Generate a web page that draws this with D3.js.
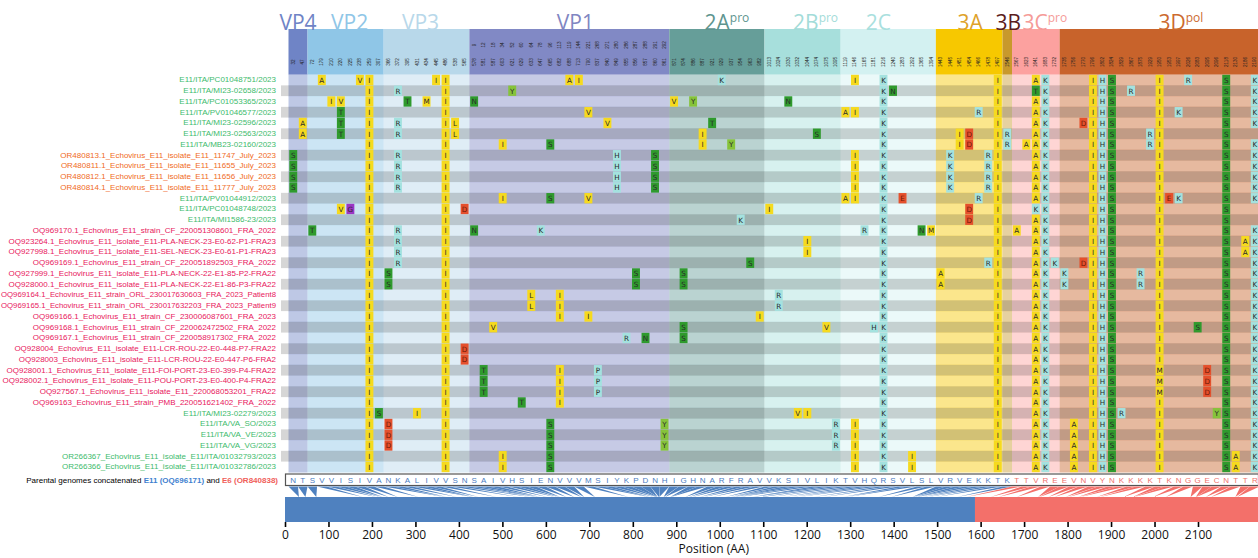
<!DOCTYPE html>
<html><head><meta charset="utf-8">
<script src="https://cdn.jsdelivr.net/npm/d3@7"></script>
<style>body{margin:0;background:#fff;}svg{display:block;}</style>
</head><body>
<svg id="chart" width="1258" height="558"></svg>
<script>
// ---------------- DATA ----------------
const geneNames = ["VP4","VP2","VP3","VP1","2A","2B","2C","3A","3B","3C","3D"];
const geneSup   = ["","","","","pro","pro","","","","pro","pol"];
const geneCols  = [2,8,9,21,10,8,10,7,1,5,21];

const positions = [32,47,
  72,179,210,220,225,238,259,307,
  366,372,395,431,434,445,486,538,565,
  578,581,587,603,621,629,633,647,665,682,688,713,790,837,840,849,855,856,857,860,861,
  871,874,886,887,921,929,937,954,963,982,
  1013,1024,1030,1032,1044,1074,1075,1095,
  1119,1146,1165,1181,1216,1240,1283,1292,1365,1394,
  1443,1445,1451,1454,1466,1478,1497,
  1546,
  1567,1623,1641,1683,1732,
  1735,1756,1770,1796,1802,1824,1829,1867,1875,1929,1950,1953,1997,2026,2083,2095,2096,2118,2130,2186,2190];

const vp1Relative = [9,12,18,34,52,60,64,78,96,113,119,144,221,268,271,280,286,287,288,291,292];

const parentalSeq = "NTSVVISIVANKALIVVSNSAIVHSIENVVVMSIYKPDNHIGHNARFRAVVKSIVLIKTVHQRSVLSLVRVEKKTKTTVREEVNVYNKKKKTKNGGECNTTR";
const e11Columns = 76;          // first 76 columns from E11, rest from E6
const recombinationPoint = 1587; // E11 / E6 junction on the position axis

const rowLabels = [
"E11/ITA/PC01048751/2023",
"E11/ITA/MI23-02658/2023",
"E11/ITA/PC01053365/2023",
"E11/ITA/PV01046577/2023",
"E11/ITA/MI23-02596/2023",
"E11/ITA/MI23-02563/2023",
"E11/ITA/MB23-02160/2023",
"OR480813.1_Echovirus_E11_isolate_E11_11747_July_2023",
"OR480811.1_Echovirus_E11_isolate_E11_11655_July_2023",
"OR480812.1_Echovirus_E11_isolate_E11_11656_July_2023",
"OR480814.1_Echovirus_E11_isolate_E11_11777_July_2023",
"E11/ITA/PV01044912/2023",
"E11/ITA/PC01048748/2023",
"E11/ITA/MI1586-23/2023",
"OQ969170.1_Echovirus_E11_strain_CF_220051308601_FRA_2022",
"OQ923264.1_Echovirus_E11_isolate_E11-PLA-NECK-23-E0-62-P1-FRA23",
"OQ927998.1_Echovirus_E11_isolate_E11-SEL-NECK-23-E0-61-P1-FRA23",
"OQ969169.1_Echovirus_E11_strain_CF_220051892503_FRA_2022",
"OQ927999.1_Echovirus_E11_isolate_E11-PLA-NECK-22-E1-85-P2-FRA22",
"OQ928000.1_Echovirus_E11_isolate_E11-PLA-NECK-22-E1-86-P3-FRA22",
"OQ969164.1_Echovirus_E11_strain_ORL_230017630603_FRA_2023_Patient8",
"OQ969165.1_Echovirus_E11_strain_ORL_230017632203_FRA_2023_Patient9",
"OQ969166.1_Echovirus_E11_strain_CF_230006087601_FRA_2023",
"OQ969168.1_Echovirus_E11_strain_CF_220062472502_FRA_2022",
"OQ969167.1_Echovirus_E11_strain_CF_220058917302_FRA_2022",
"OQ928004_Echovirus_E11_isolate_E11-LCR-ROU-22-E0-448-P7-FRA22",
"OQ928003_Echovirus_E11_isolate_E11-LCR-ROU-22-E0-447-P6-FRA2",
"OQ928001.1_Echovirus_E11_isolate_E11-FOI-PORT-23-E0-399-P4-FRA22",
"OQ928002.1_Echovirus_E11_isolate_E11-POU-PORT-23-E0-400-P4-FRA22",
"OQ927567.1_Echovirus_E11_isolate_E11_220068053201_FRA22",
"OQ969163_Echovirus_E11_strain_PMB_220051621402_FRA_2022",
"E11/ITA/MI23-02279/2023",
"E11/ITA/VA_SO/2023",
"E11/ITA/VA_VE/2023",
"E11/ITA/VA_VG/2023",
"OR266367_Echovirus_E11_isolate_E11/ITA/01032793/2023",
"OR266366_Echovirus_E11_isolate_E11/ITA/01032786/2023"
];
const rowGroups = ["ITA","ITA","ITA","ITA","ITA","ITA","ITA","OR4","OR4","OR4","OR4","ITA","ITA","ITA",
  "FRA","FRA","FRA","FRA","FRA","FRA","FRA","FRA","FRA","FRA","FRA","FRA","FRA","FRA","FRA","FRA","FRA",
  "ITA","ITA","ITA","ITA","ITA","ITA"];

// column index + residue differing from the parental sequence, per row
const mutations = [
"3A 7V 8I 15I 16I 29A 30I 45K 59I 62K 74I 78A 79K 84I 85H 86S 91I 94R 98S 101K",
"8I 11R 16I 23Y 62K 63N 74I 78T 79K 84I 85H 86S 88R 91I 98S 101K",
"4I 5V 8I 12T 14M 16I 19N 40V 42Y 52N 62K 74I 78A 79K 84I 85H 86S 91I 98S 101K",
"5T 8I 16I 31V 58A 59I 62K 72R 74I 78A 79K 84I 85H 86S 91I 93K 98S 101K",
"1A 5T 8I 11R 16I 17L 33V 44T 62K 74I 78A 79K 83D 84I 85H 86S 91I 98S 101K",
"1A 5T 8I 11R 16I 17L 43I 55S 62K 70I 71D 74I 75R 78A 79K 84I 85H 86S 90R 91I 98S",
"8I 16I 22I 27S 43I 46Y 62K 70I 71D 74I 75R 77A 78A 79K 84I 85H 86S 90R 91I 98S 101K",
"0S 8I 11R 16I 34H 38S 59I 62K 69K 73R 74I 78A 79K 84I 85H 86S 91I 98S 101K",
"0S 8I 11R 16I 34H 38S 59I 62K 69K 73R 74I 78A 79K 84I 85H 86S 91I 98S 101K",
"0S 8I 11R 16I 34H 38S 59I 62K 69K 73R 74I 78A 79K 84I 85H 86S 91I 98S 101K",
"0S 8I 11R 16I 34H 38S 59I 62K 69K 73R 74I 78A 79K 84I 85H 86S 91I 98S 101K",
"8I 16I 22I 27S 31V 58A 59I 62K 64E 72R 74I 78A 79K 84I 85H 86S 91I 92E 93K 98S 101K",
"5V 6G 8I 16I 18D 50I 62K 71D 74I 78K 79K 84I 85H 86S 91I 98S",
"8I 16I 47K 62K 71D 74I 78A 79K 84I 85H 86S 91I 98S",
"2T 8I 11R 16I 19N 26K 60R 62K 66N 67M 74I 76A 78A 79K 84I 85H 86S 91I 98S 101K",
"8I 11R 16I 54I 62K 74I 78A 79K 84I 85H 86S 91I 98S 100A 101K",
"8I 11R 16I 54I 62K 74I 78A 79K 84I 85H 86S 91I 98S 100A 101K",
"8I 11R 16I 48S 62K 73R 74I 78A 79K 80K 83D 84I 85H 86S 91I 98S 101K",
"8I 10S 16I 36S 41S 62K 68A 74I 78A 79K 81K 84I 85H 86S 89R 91I 98S 101K",
"8I 10S 16I 36S 41S 62K 68A 74I 78A 79K 81K 84I 85H 86S 89R 91I 98S 101K",
"8I 16I 25L 28I 51R 62K 74I 78A 79K 84I 85H 86S 91I 98S 101K",
"8I 16I 25L 28I 51R 62K 74I 78A 79K 84I 85H 86S 91I 98S 101K",
"8I 16I 28I 31I 49I 62K 74I 78A 79K 84I 85H 86S 91I 98S 101K",
"8I 16I 21V 41S 56V 61H 62K 74I 78A 79K 84I 85H 86S 91I 95S 98S 101K",
"8I 16I 35R 37N 41S 62K 74I 78A 79K 84I 85H 86S 91I 98S 101K",
"8I 16I 18D 62K 74I 78A 79K 84I 85H 86S 91I 98S 101K",
"8I 16I 18D 62K 74I 78A 79K 84I 85H 86S 91I 98S 101K",
"8I 16I 20T 28I 32P 62K 74I 78A 79K 84I 85H 86S 91M 96D 98S 101K",
"8I 16I 20T 28I 32P 62K 74I 78A 79K 84I 85H 86S 91M 96D 98S 101K",
"8I 16I 20T 28I 32P 62K 74I 78A 79K 84I 85H 86S 91M 96D 98S 101K",
"8I 16I 24T 28I 62K 74I 78A 79K 84I 85H 86S 91I 98S 101K",
"8I 9S 13I 16I 53V 54I 62K 74I 78A 79K 84I 85H 86S 87R 91I 97Y 98S 101K",
"8I 10D 16I 27S 39Y 57R 59I 62K 74I 78A 79K 82A 84I 85H 86S 91I 98S 101K",
"8I 10D 16I 27S 39Y 57R 59I 62K 74I 78A 79K 82A 84I 85H 86S 91I 98S 101K",
"8I 10D 16I 27S 39Y 57R 59I 62K 74I 78A 79K 82A 84I 85H 86S 91I 98S 101K",
"8I 16I 22I 27S 59I 62K 65I 74I 78A 79K 82A 84I 85H 86S 91I 98S 99A 101K",
"8I 16I 22I 27S 59I 62K 65I 74I 78A 79K 82A 84I 85H 86S 91I 98S 99A 101K"
];

const axisTicks = [0,100,200,300,400,500,600,700,800,900,1000,1100,1200,1300,1400,1500,1600,1700,1800,1900,2000,2100];

// ---------------- STYLE ----------------
const geneFill  = ["#6f84c6","#8fc6e7","#b8d8ea","#8189c5","#669e99","#a7dfdc","#d3f1f1","#f7c800","#c8992c","#fca19f","#c8632b"];
const geneText  = ["#6f84c6","#8fc6e7","#b8d8ea","#7f86c2","#5e958f","#a3dcd9","#a9e0de","#dea22a","#5b1c1c","#f59b98","#cc6a2f"];
const labelNudge = [0,4,-6,6,10,13,-10,1,1,9,22];
const groupColor = {ITA:"#3dbb6c", OR4:"#f06b1c", FRA:"#e8175d"};
const resColor = r => {
  if ("AILMVF".includes(r)) return "#f6da1e";
  if ("STNQ".includes(r)) return "#2f9a2d";
  if ("YW".includes(r)) return "#86c33a";
  if ("KRHP".includes(r)) return "#a4e2df";
  if ("DE".includes(r)) return "#e5502c";
  if (r === "G") return "#9b36c4";
  return "#cccccc";
};
const blue = "#4f81bf", red = "#f3706a";

// ---------------- DRAW ----------------
const svg = d3.select("#chart");
const W = 1258;
const x = d3.scaleLinear().domain([0, 2238]).range([285, 1258]);
const col = d3.scaleBand().domain(d3.range(positions.length)).range([288.5, 288.5 + positions.length * 9.52]);
const row = d3.scaleBand().domain(d3.range(rowLabels.length)).range([74.6, 74.6 + rowLabels.length * 10.75]);
const cw = col.bandwidth(), rh = row.bandwidth();

const geneStart = [];
let acc = 0;
geneCols.forEach(n => { geneStart.push(acc); acc += n; });
const genes = geneNames.map((g, i) => ({name: g, sup: geneSup[i], start: geneStart[i], n: geneCols[i], i}));
const geneX0 = g => col(g.start);
const geneX1 = g => Math.min(W, col(g.start + g.n - 1) + cw);

// grid backgrounds
const gridG = svg.append("g");
rowLabels.forEach((lab, r) => {
  genes.forEach(g => {
    gridG.append("rect").attr("x", geneX0(g)).attr("y", row(r))
      .attr("width", geneX1(g) - geneX0(g)).attr("height", rh + 0.2)
      .attr("fill", geneFill[g.i]).attr("fill-opacity", 0.45);
  });
  if (r % 2 === 1) {
    gridG.append("rect").attr("x", 281).attr("y", row(r)).attr("width", W - 281).attr("height", rh)
      .attr("fill", "#000").attr("fill-opacity", 0.16);
  }
});

// header bands
const head = svg.append("g");
genes.forEach(g => {
  head.append("rect").attr("x", geneX0(g)).attr("y", 29).attr("width", geneX1(g) - geneX0(g)).attr("height", 74.6 - 29)
    .attr("fill", geneFill[g.i]);
});
genes.forEach(g => {
  const t = head.append("text").attr("x", (geneX0(g) + geneX1(g)) / 2 + labelNudge[g.i]).attr("y", 30)
    .attr("text-anchor", "middle").attr("font-family", "Open Sans, Liberation Sans, sans-serif")
    .attr("font-size", 21).attr("fill", geneText[g.i]).text(g.name);
  if (g.sup) t.append("tspan").attr("font-size", 12).attr("dy", -8).text(g.sup);
});
// position labels
positions.forEach((p, c) => {
  const cx = col(c) + cw / 2;
  head.append("text").attr("transform", `translate(${cx},62) rotate(-90)`)
    .attr("text-anchor", "middle").attr("dominant-baseline", "central")
    .attr("font-family", "Liberation Sans, sans-serif").attr("font-size", 4.6).attr("fill", "#222").text(p);
});
vp1Relative.forEach((p, k) => {
  const c = geneStart[3] + k;
  const cx = col(c) + cw / 2;
  head.append("text").attr("transform", `translate(${cx},45) rotate(-90)`)
    .attr("text-anchor", "middle").attr("dominant-baseline", "central")
    .attr("font-family", "Liberation Sans, sans-serif").attr("font-size", 4.6).attr("fill", "#222").text(p);
});

// row labels (long ones squeezed to stay inside the page)
const labelRight = 276;
svg.append("g").selectAll("text").data(rowLabels).join("text")
  .attr("x", labelRight).attr("y", (d, i) => row(i) + rh / 2)
  .attr("text-anchor", "end").attr("dominant-baseline", "central")
  .attr("font-family", "Liberation Sans, Arial, sans-serif").attr("font-size", 8)
  .attr("fill", (d, i) => groupColor[rowGroups[i]]).text(d => d)
  .each(function() {
    const len = this.getComputedTextLength();
    if (len > labelRight - 1) {
      d3.select(this).attr("textLength", labelRight - 1).attr("lengthAdjust", "spacingAndGlyphs");
    }
  });

// mutation cells
const cells = [];
mutations.forEach((s, r) => {
  s.split(/\s+/).forEach(tok => {
    const m = tok.match(/^(\d+)([A-Z])$/);
    if (m) cells.push({r, c: +m[1], aa: m[2]});
  });
});
const cellG = svg.append("g");
cellG.selectAll("rect").data(cells).join("rect")
  .attr("x", d => col(d.c) + 0.8).attr("y", d => row(d.r) + 0.2)
  .attr("width", cw - 1.6).attr("height", rh - 0.4)
  .attr("fill", d => resColor(d.aa));
cellG.selectAll("text").data(cells).join("text")
  .attr("x", d => col(d.c) + cw / 2).attr("y", d => row(d.r) + rh / 2 + 0.3)
  .attr("text-anchor", "middle").attr("dominant-baseline", "central")
  .attr("font-family", "DejaVu Sans, sans-serif").attr("font-size", 7.2)
  .attr("fill", d => "DE".includes(d.aa) ? "#6e1a08" : "#2a2a2a").text(d => d.aa);

// parental sequence
const seqY = 474;
const seqG = svg.append("g");
seqG.append("rect").attr("x", 285.5).attr("y", seqY).attr("width", W - 285).attr("height", 11.5)
  .attr("fill", "#fff").attr("stroke", "#555").attr("stroke-width", 1.2);
seqG.selectAll("text").data(parentalSeq.split("")).join("text")
  .attr("x", (d, i) => col(i) + cw / 2).attr("y", seqY + 6)
  .attr("text-anchor", "middle").attr("dominant-baseline", "central")
  .attr("font-family", "Liberation Sans, sans-serif").attr("font-size", 8)
  .attr("fill", (d, i) => i < e11Columns ? "#4a7cc2" : "#f0716b").text(d => d);

svg.append("text").attr("x", 278).attr("y", seqY + 6).attr("text-anchor", "end").attr("dominant-baseline", "central")
  .attr("font-family", "Liberation Sans, Arial, sans-serif").attr("font-size", 8).attr("fill", "#000")
  .call(t => {
    t.append("tspan").text("Parental genomes concatenated ");
    t.append("tspan").attr("fill", "#3f7fd0").attr("font-weight", "bold").text("E11 (OQ696171)");
    t.append("tspan").text(" and ");
    t.append("tspan").attr("fill", "#f0605a").attr("font-weight", "bold").text("E6 (OR840838)");
  });

// fan connecting columns to genome positions
const fanTop = seqY + 12.5, barTop = 497, barBot = 522;
svg.append("g").selectAll("path").data(positions).join("path")
  .attr("d", (p, i) => `M${col(i)},${fanTop}L${col(i) + cw},${fanTop}L${x(p)},${barTop}Z`)
  .attr("fill", (p, i) => i < e11Columns ? blue : red);

// genome bar
svg.append("rect").attr("x", x(0)).attr("y", barTop).attr("width", x(recombinationPoint) - x(0)).attr("height", barBot - barTop).attr("fill", blue);
svg.append("rect").attr("x", x(recombinationPoint)).attr("y", barTop).attr("width", W - x(recombinationPoint)).attr("height", barBot - barTop).attr("fill", red);

// axis
const axisG = svg.append("g").attr("transform", `translate(0,${barBot})`)
  .call(d3.axisBottom(x).tickValues(axisTicks).tickSize(5).tickPadding(3).tickFormat(d3.format("d")));
axisG.select(".domain").remove();
axisG.selectAll(".tick line").attr("stroke", "#000").attr("stroke-width", 1.6);
axisG.selectAll(".tick text").attr("font-family", "Open Sans, Liberation Sans, sans-serif").attr("font-size", 12).attr("fill", "#111");

svg.append("text").attr("x", x(1000) - 6).attr("y", 553).attr("text-anchor", "middle")
  .attr("font-family", "Open Sans, Liberation Sans, sans-serif").attr("font-size", 12).attr("fill", "#111").text("Position (AA)");
</script>
</body></html>
